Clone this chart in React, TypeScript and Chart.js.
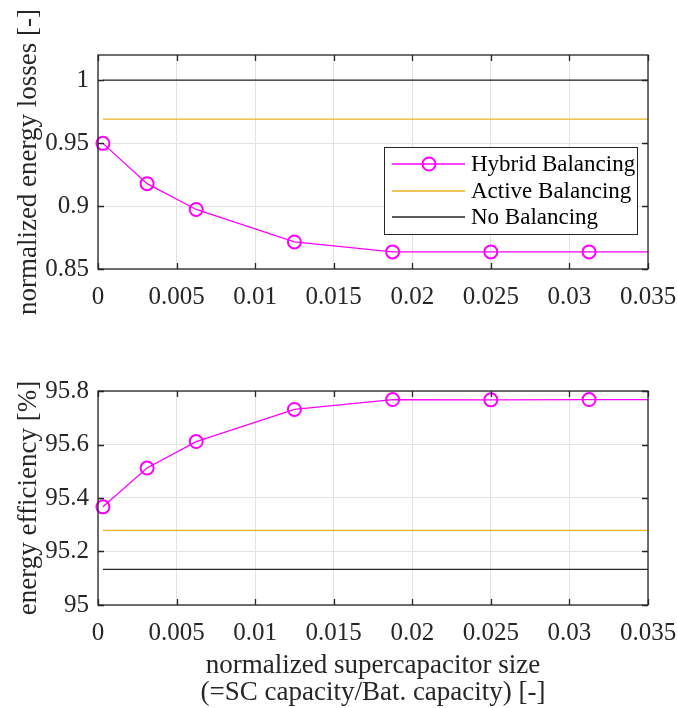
import React, { useEffect, useRef } from "react";
import { Chart, registerables } from "chart.js";

Chart.register(...registerables);

// ---- data ----
const scSize = [0.0003125, 0.003125, 0.00625, 0.0125, 0.01875, 0.025, 0.03125, 0.035];
const markerShown = [true, true, true, true, true, true, true, false];
const hybridLoss = [0.9498, 0.9178, 0.8973, 0.8715, 0.8636, 0.8636, 0.8636, 0.8636];
const hybridEff = [95.367, 95.512, 95.611, 95.731, 95.768, 95.767, 95.768, 95.768];
const baseX = [0.0003125, 0.035];
const activeLoss = [0.969, 0.969];
const noBalLoss = [1.0, 1.0];
const activeEff = [95.279, 95.279];
const noBalEff = [95.133, 95.133];

const xTicks = [0, 0.005, 0.01, 0.015, 0.02, 0.025, 0.03, 0.035];
const xTickLabels = ["0", "0.005", "0.01", "0.015", "0.02", "0.025", "0.03", "0.035"];
const lossTicks = [0.85, 0.9, 0.95, 1];
const lossTickLabels = ["0.85", "0.9", "0.95", "1"];
const effTicks = [95, 95.2, 95.4, 95.6, 95.8];
const effTickLabels = ["95", "95.2", "95.4", "95.6", "95.8"];

const seriesNames = ["Hybrid Balancing", "Active Balancing", "No Balancing"];
const colors = ["#ff00ff", "#EDB120", "#262626"];

const FONT = "'Liberation Serif', 'Times New Roman', serif";
const TEXT = "#262626";

const boxPlugin = {
  id: "boxTicks",
  afterDatasetsDraw(chart: any) {
    const { ctx, chartArea: a, scales } = chart;
    ctx.save();
    ctx.strokeStyle = TEXT;
    ctx.lineWidth = 1.3;
    const tl = 6;
    ctx.beginPath();
    scales.x.ticks.forEach((t: any) => {
      const px = Math.round(scales.x.getPixelForValue(t.value)) + 0.5;
      ctx.moveTo(px, a.bottom);
      ctx.lineTo(px, a.bottom - tl);
      ctx.moveTo(px, a.top);
      ctx.lineTo(px, a.top + tl);
    });
    scales.y.ticks.forEach((t: any) => {
      const py = Math.round(scales.y.getPixelForValue(t.value)) + 0.5;
      ctx.moveTo(a.left, py);
      ctx.lineTo(a.left + tl, py);
      ctx.moveTo(a.right, py);
      ctx.lineTo(a.right - tl, py);
    });
    ctx.stroke();
    ctx.strokeRect(a.left, a.top, a.right - a.left, a.bottom - a.top);
    ctx.restore();
  },
};

const legendPlugin = {
  id: "matLegend",
  afterDraw(chart: any, _args: any, opts: any) {
    if (!opts || !opts.show) return;
    const { ctx, chartArea: a } = chart;
    const w = 253;
    const h = 87;
    const left = a.right - 11 - w;
    const top = a.top + 92;
    ctx.save();
    ctx.fillStyle = "#ffffff";
    ctx.fillRect(left, top, w, h);
    ctx.strokeStyle = TEXT;
    ctx.lineWidth = 1;
    ctx.strokeRect(left + 0.5, top + 0.5, w, h);
    const rows = [17, 44, 70];
    ctx.font = `23px ${FONT}`;
    ctx.textBaseline = "middle";
    chart.data.datasets.forEach((ds: any, i: number) => {
      const y = top + rows[i];
      ctx.strokeStyle = ds.borderColor;
      ctx.lineWidth = 1.3;
      ctx.beginPath();
      ctx.moveTo(left + 8, y);
      ctx.lineTo(left + 81, y);
      ctx.stroke();
      if (i === 0) {
        ctx.lineWidth = 2;
        ctx.beginPath();
        ctx.arc(left + 45, y, 6.5, 0, Math.PI * 2);
        ctx.stroke();
      }
      ctx.fillStyle = "#000";
      ctx.fillText(ds.label, left + 87, y + 1);
    });
    ctx.restore();
  },
};

function makeConfig(opts: {
  hybrid: number[];
  active: number[];
  none: number[];
  yTicks: number[];
  yLabels: string[];
  yMin: number;
  yMax: number;
  yTitle: string;
  xTitle: string[] | null;
  padTop: number;
  xAxisHeight: number;
  legend: boolean;
}) {
  return {
    type: "line" as const,
    data: {
      datasets: [
        {
          label: seriesNames[0],
          data: scSize.map((x, i) => ({ x, y: opts.hybrid[i] })),
          borderColor: colors[0],
          backgroundColor: "rgba(0,0,0,0)",
          borderWidth: 1.3,
          pointRadius: markerShown.map((m) => (m ? 6.5 : 0)),
          pointBorderWidth: 2,
          pointBorderColor: colors[0],
          pointBackgroundColor: "rgba(0,0,0,0)",
          pointStyle: "circle",
          tension: 0,
          clip: false,
        },
        {
          label: seriesNames[1],
          data: baseX.map((x, i) => ({ x, y: opts.active[i] })),
          borderColor: colors[1],
          borderWidth: 1.3,
          pointRadius: 0,
        },
        {
          label: seriesNames[2],
          data: baseX.map((x, i) => ({ x, y: opts.none[i] })),
          borderColor: colors[2],
          borderWidth: 1.3,
          pointRadius: 0,
        },
      ],
    },
    options: {
      animation: false,
      responsive: false,
      events: [],
      layout: { padding: { top: opts.padTop, right: 29, left: 0, bottom: 0 } },
      plugins: {
        legend: { display: false },
        tooltip: { enabled: false },
        matLegend: { show: opts.legend },
      },
      scales: {
        x: {
          type: "linear",
          min: 0,
          max: 0.035,
          afterBuildTicks: (s: any) => {
            s.ticks = xTicks.map((v) => ({ value: v }));
          },
          afterFit: (s: any) => {
            s.height = opts.xAxisHeight;
            s.paddingLeft = 0;
            s.paddingRight = 0;
          },
          ticks: {
            callback: (_v: any, i: number) => xTickLabels[i],
            font: { family: FONT, size: 25 },
            color: TEXT,
            padding: 13,
            maxRotation: 0,
            autoSkip: false,
          },
          grid: { color: "#e3e3e3", lineWidth: 1, drawTicks: false },
          border: { display: false },
          title: opts.xTitle
            ? {
                display: true,
                text: opts.xTitle,
                font: { family: FONT, size: 27, lineHeight: 1.0 },
                color: TEXT,
                padding: { top: 0, bottom: 2 },
              }
            : { display: false },
        },
        y: {
          type: "linear",
          min: opts.yMin,
          max: opts.yMax,
          afterBuildTicks: (s: any) => {
            s.ticks = opts.yTicks.map((v) => ({ value: v }));
          },
          afterFit: (s: any) => {
            s.width = 98;
          },
          ticks: {
            callback: (_v: any, i: number) => opts.yLabels[i],
            font: { family: FONT, size: 25 },
            color: TEXT,
            padding: 9,
          },
          grid: { color: "#e3e3e3", lineWidth: 1, drawTicks: false },
          border: { display: false },
          title: {
            display: true,
            text: opts.yTitle,
            font: { family: FONT, size: 27, lineHeight: 1 },
            color: TEXT,
            padding: { top: 15, bottom: 0 },
          },
        },
      },
    },
    plugins: [boxPlugin, legendPlugin],
  };
}

function ChartCanvas(props: { config: any; width: number; height: number; top: number }) {
  const ref = useRef<HTMLCanvasElement | null>(null);
  useEffect(() => {
    if (!ref.current) return;
    const chart = new Chart(ref.current, props.config);
    return () => chart.destroy();
  }, []);
  return (
    <canvas
      ref={ref}
      width={props.width}
      height={props.height}
      style={{ position: "absolute", left: 0, top: props.top, width: props.width, height: props.height, display: "block" }}
    />
  );
}

export default function App() {
  const topCfg = makeConfig({
    hybrid: hybridLoss,
    active: activeLoss,
    none: noBalLoss,
    yTicks: lossTicks,
    yLabels: lossTickLabels,
    yMin: 0.85,
    yMax: 1.02,
    yTitle: "normalized energy losses [-]",
    xTitle: null,
    padTop: 55,
    xAxisHeight: 340 - 269,
    legend: true,
  });
  const botCfg = makeConfig({
    hybrid: hybridEff,
    active: activeEff,
    none: noBalEff,
    yTicks: effTicks,
    yLabels: effTickLabels,
    yMin: 95,
    yMax: 95.8,
    yTitle: "energy efficiency [%]",
    xTitle: ["normalized supercapacitor size", "(=SC capacity/Bat. capacity) [-]"],
    padTop: 51,
    xAxisHeight: 368 - 265,
    legend: false,
  });
  return (
    <div style={{ position: "fixed", left: 0, top: 0, width: 677, height: 708, background: "#fff" }}>
      <ChartCanvas config={topCfg} width={677} height={340} top={0} />
      <ChartCanvas config={botCfg} width={677} height={368} top={340} />
    </div>
  );
}
